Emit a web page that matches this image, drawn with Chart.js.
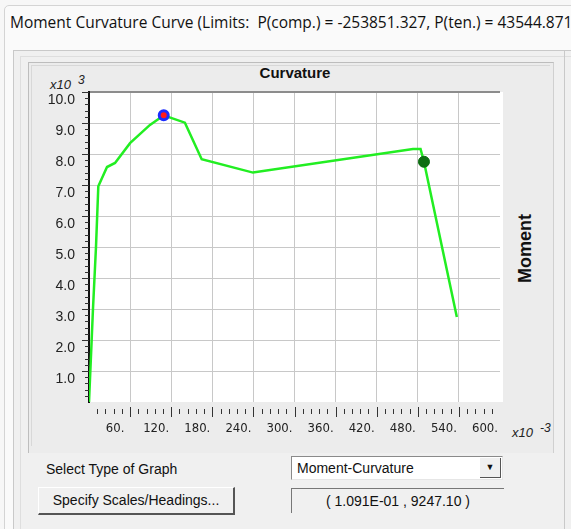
<!DOCTYPE html>
<html>
<head>
<meta charset="utf-8">
<script src="https://cdn.jsdelivr.net/npm/chart.js@4.4.0/dist/chart.umd.min.js"></script>
<style>
  body { margin: 0; width: 571px; height: 529px; overflow: hidden; position: relative; background: #f7f7f7; font-family: "Liberation Sans", Arial, sans-serif; color: #111; }
  .abs { position: absolute; }
  #win { left: 4px; top: 5px; width: 620px; height: 560px; border: 1px solid #d4d4d4; border-radius: 5px; background: #fafafa; }
  #caption { left: 10px; top: 11px; font-family: "Open Sans", sans-serif; font-size: 15.5px; white-space: nowrap; }
  #group { left: 13px; top: 50px; width: 620px; height: 520px; border-left: 1px solid #c9c9c9; border-top: 1px solid #c9c9c9; background: #f0f0f0; }
  #group2 { left: 20px; top: 56px; width: 620px; height: 520px; border-left: 1px solid #dedede; border-top: 1px solid #dedede; }
  #panel { left: 28px; top: 62px; width: 524px; height: 390px; border-left: 1px solid #bdbdbd; border-top: 1px solid #bdbdbd; border-right: 1px solid #d0d0d0; background: #ececec; }
  #panel2 { left: 31px; top: 65px; width: 518px; height: 380px; border-left: 1px solid #d8d8d8; border-top: 1px solid #d8d8d8; }
  #rline { left: 564px; top: 50px; width: 1px; height: 480px; background: #c9c9c9; }
  #xtitle { left: 240px; top: 64px; width: 110px; text-align: center; font-weight: bold; font-size: 15px; }
  #ytitle { left: 490px; top: 238px; width: 70px; text-align: center; font-weight: bold; font-size: 18px; transform: rotate(-90deg); }
  .mult { font-style: italic; font-size: 13px; color: #222; }
  .mult sup { font-size: 12px; margin-left: 7px; }
  #ymult { left: 50px; top: 73px; }
  #xmult { left: 512px; top: 421px; }
  #lblType { left: 46px; top: 461px; font-size: 14px; }
  #combo { left: 291px; top: 456px; width: 210px; height: 22px; background: #fff; border-top: 1px solid #8a8a8a; border-left: 1px solid #8a8a8a; border-right: 1px solid #e6e6e6; border-bottom: 1px solid #e6e6e6; font-size: 14px; line-height: 22px; text-indent: 5px; }
  #combo .btn { position: absolute; right: 1px; top: 1px; width: 20px; height: 19px; border-right: 1px solid #555; border-bottom: 1px solid #555; background: #f0f0f0; font-size: 9px; line-height: 19px; text-align: center; text-indent: 0; }
  #specify { left: 38px; top: 487px; width: 194px; height: 25px; border-top: 1px solid #fff; border-left: 1px solid #fff; border-right: 2px solid #555; border-bottom: 2px solid #555; background: #f0f0f0; font-size: 14px; line-height: 25px; text-align: center; }
  #readout { left: 291px; top: 488px; width: 212px; height: 24px; border-top: 1px solid #777; border-left: 1px solid #777; font-size: 14px; line-height: 24px; text-align: center; }
  #chart { left: 0; top: 0; pointer-events: none; }
</style>
</head>
<body>
<div class="abs" id="win"></div>
<div class="abs" id="caption">Moment Curvature Curve (Limits:&nbsp; P(comp.) = -253851.327, P(ten.) = 43544.871</div>
<div class="abs" id="group"></div>
<div class="abs" id="group2"></div>
<div class="abs" id="panel"></div>
<div class="abs" id="panel2"></div>
<div class="abs" id="rline"></div>
<div class="abs" id="xtitle">Curvature</div>
<div class="abs" id="ytitle">Moment</div>
<div class="abs mult" id="ymult">x10<sup>3</sup></div>
<div class="abs mult" id="xmult">x10<sup>-3</sup></div>
<div class="abs" id="lblType">Select Type of Graph</div>
<div class="abs" id="combo">Moment-Curvature<div class="btn">&#9660;</div></div>
<div class="abs" id="specify">Specify Scales/Headings...</div>
<div class="abs" id="readout">( 1.091E-01 , 9247.10 )</div>
<canvas class="abs" id="chart" width="571" height="529"></canvas>

<script>
// moment-curvature curve (curvature in rad, moment in force*length)
var curvature = [0, 0.0039, 0.0058, 0.0102, 0.0136, 0.0263, 0.0380, 0.0599, 0.0890, 0.1036, 0.1091, 0.1400, 0.1645, 0.2394, 0.4730, 0.4840, 0.4890, 0.5370];
var moment    = [0, 2000, 3000, 5000, 6960, 7580, 7710, 8350, 8940, 9160, 9247.10, 9010, 7830, 7400, 8160, 8160, 7750, 2740];

// highlighted points
var peakPoint = [0.1091, 9247.10];
var limitPoint = [0.4890, 7750];

// axis ticks (curvature x10^-3, moment x10^3)
var xTickValues = [60, 120, 180, 240, 300, 360, 420, 480, 540, 600];
var yTickValues = [1, 2, 3, 4, 5, 6, 7, 8, 9, 10];

function toPlot(c, m) {
    return { x: c * 1000, y: m / 1000 };
}

var curvePoints = curvature.map(function(c, i) { return toPlot(c, moment[i]); });

var axisMarks = {
    id: 'axisMarks',
    beforeDraw: function(chart) {
        var a = chart.chartArea;
        var ctx = chart.ctx;
        ctx.save();
        ctx.fillStyle = '#ffffff';
        ctx.fillRect(a.left, a.top, a.right - a.left + 3, a.bottom - a.top);
        ctx.restore();
    },
    afterDraw: function(chart) {
        var ctx = chart.ctx;
        var a = chart.chartArea;
        var x = chart.scales.x;
        var y = chart.scales.y;
        ctx.save();
        ctx.strokeStyle = '#333';
        ctx.lineWidth = 1;
        ctx.beginPath();
        for (var i = 1; i <= 50; i++) {
            var py = Math.round(y.getPixelForValue(i * 0.2)) + 0.5;
            var len = i % 5 === 0 ? 7 : 4;
            ctx.moveTo(a.left - len, py);
            ctx.lineTo(a.left, py);
        }
        for (var j = 1; j < 50; j++) {
            var px = Math.round(x.getPixelForValue(j * 12)) + 0.5;
            var major = j % 5 === 0;
            ctx.moveTo(px, a.bottom + (major ? 5 : 7));
            ctx.lineTo(px, a.bottom + (major ? 15 : 12));
        }
        ctx.stroke();
        ctx.restore();
    }
};

document.addEventListener('DOMContentLoaded', function() {
    var ctx = document.getElementById('chart').getContext('2d');
    var chart = new Chart(ctx, {
        type: 'scatter',
        data: {
            datasets: [{
                data: [toPlot(peakPoint[0], peakPoint[1])],
                pointRadius: 4.5,
                pointBackgroundColor: '#ff1a1a',
                pointBorderColor: '#1a2cff',
                pointBorderWidth: 3
            }, {
                data: [toPlot(limitPoint[0], limitPoint[1])],
                pointRadius: 5.5,
                pointBackgroundColor: '#0e6e12',
                pointBorderColor: '#0e6e12',
                pointBorderWidth: 1
            }, {
                data: curvePoints,
                showLine: true,
                borderColor: '#22ee22',
                borderWidth: 2.5,
                pointRadius: 0,
                tension: 0
            }]
        },
        options: {
            responsive: false,
            animation: false,
            devicePixelRatio: 1,
            layout: {
                padding: { top: 92, left: 0, right: 71, bottom: 97 }
            },
            plugins: {
                legend: { display: false },
                tooltip: { enabled: false }
            },
            scales: {
                x: {
                    type: 'linear',
                    min: 0,
                    max: 600,
                    afterBuildTicks: function(scale) {
                        scale.ticks = xTickValues.map(function(v) { return { value: v }; });
                    },
                    afterFit: function(scale) { scale.height = 30; },
                    border: { display: false },
                    grid: {
                        drawTicks: false,
                        color: function(c) {
                            return (c.tick && c.tick.value >= 600) ? 'rgba(0,0,0,0)' : '#c8c8c8';
                        }
                    },
                    ticks: {
                        padding: 19,
                        labelOffset: -15,
                        maxRotation: 0,
                        autoSkip: false,
                        color: '#222',
                        font: { family: "'DejaVu Sans Condensed', 'Liberation Sans', sans-serif", size: 13 },
                        callback: function(v) { return v + '.'; }
                    }
                },
                y: {
                    type: 'linear',
                    min: 0,
                    max: 10,
                    afterBuildTicks: function(scale) {
                        scale.ticks = yTickValues.map(function(v) { return { value: v }; });
                    },
                    afterFit: function(scale) { scale.width = 89; },
                    border: { display: true, color: '#111', width: 2 },
                    grid: {
                        drawTicks: false,
                        color: function(c) {
                            return (c.tick && c.tick.value >= 10) ? '#8c8c8c' : '#c8c8c8';
                        },
                        lineWidth: function(c) {
                            return (c.tick && c.tick.value >= 10) ? 2 : 1;
                        }
                    },
                    ticks: {
                        padding: 14,
                        labelOffset: 8,
                        autoSkip: false,
                        color: '#222',
                        font: { family: "'Liberation Sans', Arial, sans-serif", size: 14 },
                        callback: function(v) { return v.toFixed(1); }
                    }
                }
            }
        },
        plugins: [axisMarks]
    });
});
</script>
</body>
</html>
